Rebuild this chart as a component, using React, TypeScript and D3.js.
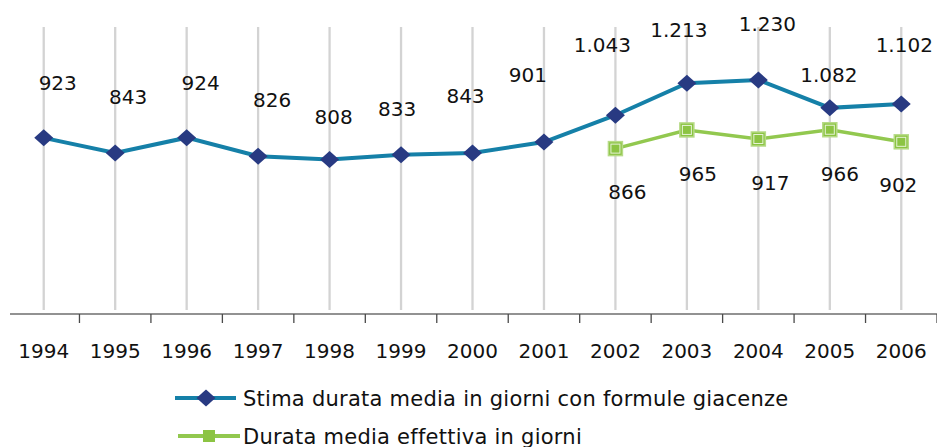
import { useEffect, useRef } from "react";
import * as d3 from "d3";

// anni sull'asse x
const years = ["1994", "1995", "1996", "1997", "1998", "1999", "2000", "2001", "2002", "2003", "2004", "2005", "2006"];

// stima durata media (formule giacenze), tutti gli anni
const stimaValues = [923, 843, 924, 826, 808, 833, 843, 901, 1043, 1213, 1230, 1082, 1102];

// durata media effettiva, solo dal 2002
const effettivaYears = ["2002", "2003", "2004", "2005", "2006"];
const effettivaValues = [866, 965, 917, 966, 902];

const seriesNames = [
    "Stima durata media in giorni con formule giacenze",
    "Durata media effettiva in giorni",
];

// label nudges (px, relative to the point) - the original labels were hand moved
const stimaLabelNudge: [number, number][] = [
    [14, -48], [13, -49], [14, -48], [14, -49], [4, -36], [-4, -39], [-7, -50],
    [-16, -60], [-13, -63], [-8, -46], [9, -49], [-1, -26], [3, -52],
];
const effettivaLabelNudge: [number, number][] = [[12, 50], [11, 51], [12, 51], [10, 51], [-3, 50]];

const W = 937;
const H = 447;
const BLUE = "#1580a8";
const NAVY = "#283a82";
const GREEN = "#92c84f";
const FONT = "'DejaVu Sans', Verdana, sans-serif";

const itFormat = d3.formatLocale({ decimal: ",", thousands: ".", grouping: [3], currency: ["€", ""] }).format(",d");

export default function App() {
    const ref = useRef<SVGSVGElement>(null);

    useEffect(() => {
        document.body.style.margin = "0";
        const svg = d3.select(ref.current);
        svg.selectAll("*").remove();

        const x = d3.scaleBand().domain(years).range([8, 937]);
        const cx = (yr: string) => (x(yr) ?? 0) + x.bandwidth() / 2;
        const y = d3.scaleLinear().domain([0, 1500]).range([312, 29]);

        // vertical gridlines
        svg.append("g")
            .selectAll("line")
            .data(years)
            .join("line")
            .attr("x1", cx).attr("x2", cx)
            .attr("y1", y(1500) - 2).attr("y2", y(0) - 2)
            .attr("stroke", "#d3d3d3")
            .attr("stroke-width", 2.3);

        // x axis with ticks between categories
        const axisY = y(0) + 2;
        svg.append("line")
            .attr("x1", 10).attr("x2", W)
            .attr("y1", axisY).attr("y2", axisY)
            .attr("stroke", "#6e6e6e").attr("stroke-width", 1.5);
        svg.append("g")
            .selectAll("line")
            .data(years.slice(1).concat(["end"]))
            .join("line")
            .attr("x1", (_, i) => x(years[0])! + x.step() * (i + 1))
            .attr("x2", (_, i) => x(years[0])! + x.step() * (i + 1))
            .attr("y1", axisY).attr("y2", axisY + 9)
            .attr("stroke", "#4a4a4a").attr("stroke-width", 1.3);
        svg.append("g")
            .selectAll("text")
            .data(years)
            .join("text")
            .attr("x", cx)
            .attr("y", 358)
            .attr("text-anchor", "middle")
            .attr("font-family", FONT)
            .attr("font-size", 20)
            .attr("fill", "#111")
            .text((d) => d);

        const line = d3.line<[string, number]>()
            .x((d) => cx(d[0]))
            .y((d) => y(d[1]));

        const stima: [string, number][] = years.map((yr, i) => [yr, stimaValues[i]]);
        const effettiva: [string, number][] = effettivaYears.map((yr, i) => [yr, effettivaValues[i]]);

        // green series
        svg.append("path")
            .datum(effettiva)
            .attr("fill", "none")
            .attr("stroke", GREEN)
            .attr("stroke-width", 3.5)
            .attr("d", line);

        const square = (g: d3.Selection<any, any, any, any>) => {
            g.append("rect").attr("x", -7).attr("y", -7).attr("width", 14).attr("height", 14)
                .attr("fill", "#8cc443").attr("stroke", "#b6da86").attr("stroke-width", 1.5);
            g.append("rect").attr("x", -4.5).attr("y", -4.5).attr("width", 9).attr("height", 9)
                .attr("fill", "none").attr("stroke", "#e6f2d6").attr("stroke-width", 1);
        };

        svg.append("g")
            .selectAll("g")
            .data(effettiva)
            .join("g")
            .attr("transform", (d) => `translate(${cx(d[0])},${y(d[1])})`)
            .each(function () { square(d3.select(this)); });

        // blue series
        svg.append("path")
            .datum(stima)
            .attr("fill", "none")
            .attr("stroke", BLUE)
            .attr("stroke-width", 4)
            .attr("d", line);

        const diamond = "M-9.5,0L0,-8.5L9.5,0L0,8.5Z";
        svg.append("g")
            .selectAll("path")
            .data(stima)
            .join("path")
            .attr("d", diamond)
            .attr("transform", (d) => `translate(${cx(d[0])},${y(d[1])})`)
            .attr("fill", NAVY);

        // data labels
        const labels = svg.append("g")
            .attr("font-family", FONT)
            .attr("font-size", 20)
            .attr("fill", "#111")
            .attr("text-anchor", "middle");
        labels.selectAll("text.s")
            .data(stima)
            .join("text")
            .attr("class", "s")
            .attr("x", (d, i) => cx(d[0]) + stimaLabelNudge[i][0])
            .attr("y", (d, i) => y(d[1]) + stimaLabelNudge[i][1])
            .text((d) => itFormat(d[1]));
        labels.selectAll("text.e")
            .data(effettiva)
            .join("text")
            .attr("class", "e")
            .attr("x", (d, i) => cx(d[0]) + effettivaLabelNudge[i][0])
            .attr("y", (d, i) => y(d[1]) + effettivaLabelNudge[i][1])
            .text((d) => itFormat(d[1]));

        // legend
        const legend = svg.append("g")
            .attr("font-family", FONT).attr("font-size", 21).attr("letter-spacing", 0.25).attr("fill", "#111");
        const l1 = legend.append("g").attr("transform", "translate(0,398)");
        l1.append("line").attr("x1", 175).attr("x2", 236).attr("stroke", BLUE).attr("stroke-width", 4);
        l1.append("path").attr("d", diamond).attr("transform", "translate(206,0)").attr("fill", NAVY);
        l1.append("text").attr("x", 243).attr("y", 7.5).text(seriesNames[0]);

        const l2 = legend.append("g").attr("transform", "translate(0,436)");
        l2.append("line").attr("x1", 178).attr("x2", 240).attr("stroke", GREEN).attr("stroke-width", 4);
        l2.append("rect").attr("x", 203).attr("y", -6).attr("width", 12).attr("height", 12).attr("fill", "#8cc443");
        l2.append("text").attr("x", 243).attr("y", 7.5).text(seriesNames[1]);
    }, []);

    return <svg ref={ref} width={W} height={H} style={{ display: "block", background: "white" }} />;
}
